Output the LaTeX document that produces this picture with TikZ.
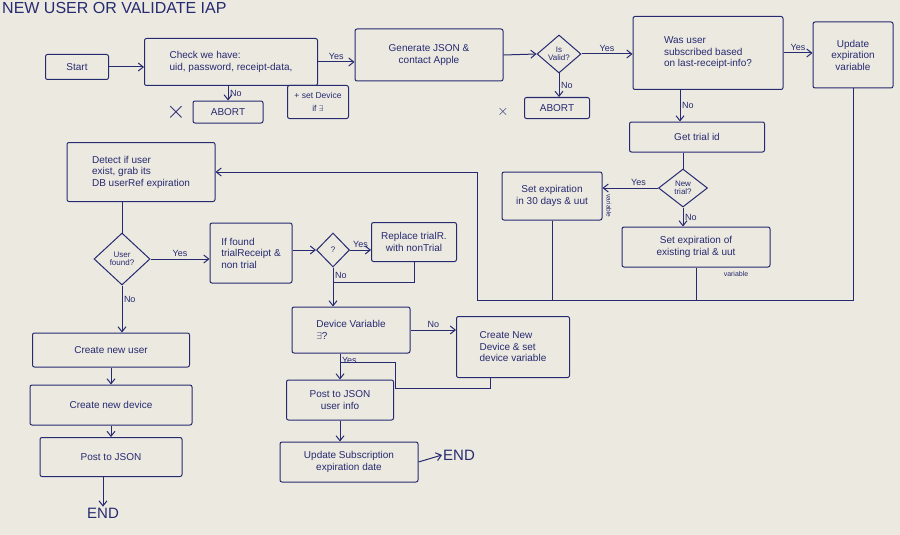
\documentclass[tikz,border=0pt]{standalone}
\usepackage{fontspec}
\setmainfont{Liberation Sans}
\usetikzlibrary{shapes.geometric,arrows.meta,calc}
\definecolor{ink}{RGB}{38,42,112}
\definecolor{paper}{RGB}{236,233,224}
\tikzset{
  box/.style={draw=ink, line width=1pt, rounded corners=2pt, text=ink, inner sep=2pt,
    font=\fontsize{10}{11.5}\selectfont, align=center},
  dia/.style={diamond, draw=ink, line width=1pt, inner sep=0pt},
  dtext/.style={text=ink, font=\fontsize{8}{8.5}\selectfont, align=center, inner sep=0pt},
  lbl/.style={text=ink, font=\fontsize{9}{9}\selectfont, inner sep=1.5pt},
  conn/.style={draw=ink, line width=1pt},
  arr/.style={conn, -{Straight Barb[length=5pt,width=8pt]}},
  endtext/.style={text=ink, font=\fontsize{15}{15}\selectfont, inner sep=1pt}
}
\begin{document}
\begin{tikzpicture}[x=1pt,y=-1pt]
\fill[paper] (0,0) rectangle (900,535);
\useasboundingbox (0,0) rectangle (900,535);

\node[anchor=west, text=ink, font=\fontsize{16}{16}\selectfont, inner sep=0pt] (title) at (2,8) {NEW USER OR VALIDATE IAP};

% top row
\node[box, minimum width=63pt, minimum height=25pt] (start) at (77,67) {Start};
\node[box, minimum width=173pt, minimum height=47pt, align=left] (check) at (231,62) {Check we have:\\uid, password, receipt-data,};
\node[box, minimum width=70pt, minimum height=22pt] (abort1) at (228,112) {ABORT};
\node[text=ink, font=\fontsize{24}{24}\selectfont, inner sep=0pt] (x1) at (176,112) {$\times$};
\node[box, minimum width=61pt, minimum height=33pt, font=\fontsize{8.5}{13}\selectfont] (setdev) at (318,102) {+ set Device\\if $\exists$};
\node[box, minimum width=148pt, minimum height=52pt] (gen) at (429,55) {Generate JSON \&\\contact Apple};
\node[dia, minimum width=44pt, minimum height=38pt] (valid) at (559,54) {};
\node[dtext] (validt) at (valid) {Is\\Valid?};
\node[box, minimum width=65pt, minimum height=21pt] (abort2) at (557,108) {ABORT};
\node[text=ink, font=\fontsize{14}{14}\selectfont, inner sep=0pt] (x2) at (503,112) {$\times$};
\node[box, minimum width=150pt, minimum height=73pt, align=left] (was) at (708,53) {Was user\\subscribed based\\on last-receipt-info?};
\node[box, minimum width=80pt, minimum height=66pt] (update) at (853,55) {Update\\expiration\\variable};

% right column
\node[box, minimum width=135pt, minimum height=30pt] (trial) at (697,137) {Get trial id};
\node[dia, minimum width=49pt, minimum height=38pt] (newtrial) at (683,188) {};
\node[dtext] (newtrialt) at (newtrial) {New\\trial?};
\node[box, minimum width=100pt, minimum height=48pt] (set30) at (552,196) {Set expiration\\in 30 days \& uut};
\node[lbl, rotate=-90, font=\fontsize{6.5}{6.5}\selectfont, inner sep=0pt] (var1) at (609,206) {variable};
\node[box, minimum width=148pt, minimum height=40pt] (setexist) at (696,247) {Set expiration of\\existing trial \& uut};
\node[lbl, font=\fontsize{7}{7}\selectfont] (var2) at (736,274) {variable};

% middle
\node[box, minimum width=148pt, minimum height=59pt, align=left] (detect) at (141,172) {Detect if user\\exist, grab its\\DB userRef expiration};
\node[dia, minimum width=56pt, minimum height=52pt] (uf) at (122,259) {};
\node[dtext] (uft) at (uf) {User\\found?};
\node[box, minimum width=82pt, minimum height=60pt, align=left] (iffound) at (251,253) {If found\\trialReceipt \&\\non trial};
\node[dia, minimum width=33pt, minimum height=34pt] (q) at (333,250) {};
\node[dtext] (qt) at (q) {?};
\node[box, minimum width=85pt, minimum height=39pt] (replace) at (414,242) {Replace trialR.\\with nonTrial};
\node[box, minimum width=118pt, minimum height=46pt, align=left] (devvar) at (351,330) {Device Variable\\$\exists$?};
\node[box, minimum width=113pt, minimum height=61pt, align=left] (createdev) at (513,347) {Create New\\Device \& set\\device variable};
\node[box, minimum width=107pt, minimum height=40pt] (postjson2) at (340,400) {Post to JSON\\user info};
\node[box, minimum width=138pt, minimum height=40pt] (updsub) at (349,462) {Update Subscription\\expiration date};
\node[endtext, anchor=west] (end2) at (442,455) {END};

% left column
\node[box, minimum width=157pt, minimum height=34pt] (newuser) at (111,350) {Create new user};
\node[box, minimum width=162pt, minimum height=40pt] (newdevice) at (111,405) {Create new device};
\node[box, minimum width=142pt, minimum height=39pt] (postjson) at (111,457) {Post to JSON};
\node[endtext] (end1) at (103,513) {END};

% coordinates
\coordinate (b1) at (853,300);
\coordinate (b2) at (477,300);
\coordinate (b3) at (477,172);
\coordinate (j1) at (333,282);
\coordinate (c0) at (490,0);
\coordinate (j2) at (395,388);
\coordinate (j3) at (340,362);

% connectors
\draw[arr] (start.east) -- (start.east -| check.west);
\draw[arr] (check.east) -- (check.east -| gen.west) node[lbl, midway, above] {Yes};
\draw[arr] (abort1.north |- check.south) -- (abort1.north) node[lbl, midway, right] {No};
\draw[arr] (gen.east) -- (valid.west);
\draw[arr] (valid.east) -- (valid.east -| was.west) node[lbl, midway, above] {Yes};
\draw[arr] (valid.south) -- (valid.south |- abort2.north) node[lbl, midway, right] {No};
\draw[arr] (was.east) -- (was.east -| update.west) node[lbl, midway, above] {Yes};
\draw[arr] ($(was.south)+(-28,0)$) coordinate (w1) -- (w1 |- trial.north) node[lbl, midway, right] {No};
\draw[conn] (newtrial.north |- trial.south) -- (newtrial.north);
\draw[arr] (newtrial.west) -- (newtrial.west -| set30.east) node[lbl, pos=0.35, above] {Yes};
\draw[arr] (newtrial.south) -- (newtrial.south |- setexist.north) node[lbl, midway, right] {No};

\draw[arr] (update.south) -- (b1) -- (b2) -- (b3) -- (b3 -| detect.east);
\draw[conn] (set30.south) -- (set30.south |- b2);
\draw[conn] (setexist.south) -- (setexist.south |- b1);

\draw[conn] (uf.north |- detect.south) -- (uf.north);
\draw[arr] (uf.east) -- (uf.east -| iffound.west) node[lbl, midway, above] {Yes};
\draw[arr] (uf.south) -- (uf.south |- newuser.north) node[lbl, pos=0.3, right] {No};
\draw[arr] (iffound.east |- q) -- (q.west);
\draw[arr] (q.east) -- (q.east -| replace.west) node[lbl, midway, above] {Yes};
\draw[conn] (replace.south) |- (j1);
\draw[arr] (q.south) -- (q.south |- devvar.north) node[lbl, pos=0.2, right] {No};
\draw[arr] (devvar.east) -- (devvar.east -| createdev.west) node[lbl, midway, above] {No};
\draw[arr] (postjson2.north |- devvar.south) -- (postjson2.north) node[lbl, pos=0.25, right] {Yes};
\draw[conn] (createdev.south -| c0) |- (j2) |- (j3);
\draw[arr] (postjson2.south) -- (postjson2.south |- updsub.north);
\draw[arr] (updsub.east) -- (end2.west);

\draw[arr] (newuser.south) -- (newdevice.north);
\draw[arr] (newdevice.south) -- (newdevice.south |- postjson.north);
\draw[arr] (postjson.south -| end1) -- (end1.north);
\end{tikzpicture}
\end{document}
